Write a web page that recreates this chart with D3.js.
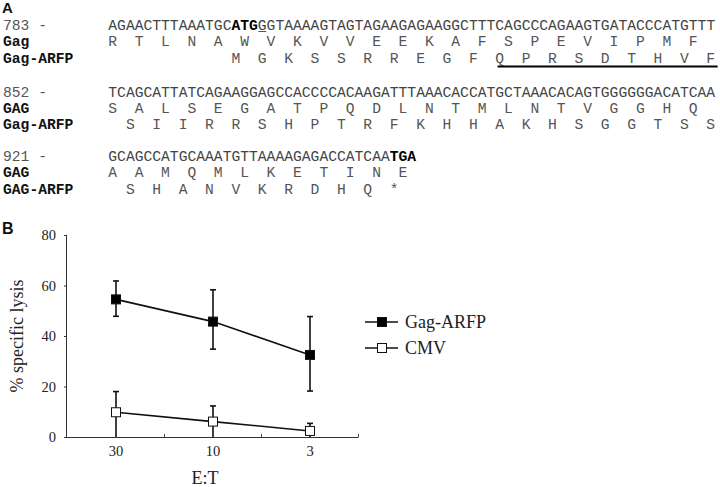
<!DOCTYPE html>
<html>
<head>
<meta charset="utf-8">
<script src="https://cdn.jsdelivr.net/npm/d3@7/dist/d3.min.js"></script>
<style>
  html, body { margin: 0; padding: 0; background: #fff; }
  svg { display: block; }
</style>
</head>
<body>
<svg id="fig" width="720" height="487"></svg>
<script>
// ---------------- Data ----------------
// Panel A: sequence blocks
const seqLabels = ["783 -", "852 -", "921 -"];
const gagLabels = ["Gag", "GAG", "GAG"];
const arfpLabels = ["Gag-ARFP", "Gag-ARFP", "GAG-ARFP"];
const nucLines = [
  "AGAACTTTAAATGCATGGGTAAAAGTAGTAGAAGAGAAGGCTTTCAGCCCAGAAGTGATACCCATGTTT",
  "TCAGCATTATCAGAAGGAGCCACCCCACAAGATTTAAACACCATGCTAAACACAGTGGGGGGACATCAA",
  "GCAGCCATGCAAATGTTAAAAGAGACCATCAATGA"
];
const boldRanges = [[14, 17], null, [32, 35]];   // ATG start, TGA stop
const gagAA = [
  ["R","T","L","N","A","W","V","K","V","V","E","E","K","A","F","S","P","E","V","I","P","M","F"],
  ["S","A","L","S","E","G","A","T","P","Q","D","L","N","T","M","L","N","T","V","G","G","H","Q"],
  ["A","A","M","Q","M","L","K","E","T","I","N","E"]
];
const gagStart = [0, 0, 0];
const arfpAA = [
  ["M","G","K","S","S","R","R","E","G","F","Q","P","R","S","D","T","H","V","F"],
  ["S","I","I","R","R","S","H","P","T","R","F","K","H","H","A","K","H","S","G","G","T","S","S"],
  ["S","H","A","N","V","K","R","D","H","Q","*"]
];
const arfpStart = [14, 2, 2];
const underlinedNuc = 17;          // underlined G in first line
const peptideFrom = 44;            // underlined peptide in Gag-ARFP, block 1

// Panel B: chart
const categories = ["30", "10", "3"];
const gagMean  = [54.5, 45.7, 32.5];
const gagUpper = [61.8, 58.3, 47.7];
const gagLower = [47.8, 34.8, 18.2];
const cmvMean  = [9.8, 6.1, 2.4];
const cmvUpper = [18.0, 12.3, 5.4];
const cmvLower = [0, 0, 0];
const yTicks = [0, 20, 40, 60, 80];
const seriesNames = ["Gag-ARFP", "CMV"];

// ---------------- Panel A ----------------
const svg = d3.select("#fig");
const mono = "'Liberation Mono', 'DejaVu Sans Mono', monospace";
const fs = 14.67, cw = fs * 0.6, x0 = 108.3;
const blockY = [[24.5, 41, 57.5], [91.5, 107.5, 123.5], [155.5, 172, 188.5]];

svg.append("text").attr("x", 2).attr("y", 12.5)
  .attr("font-family", "'Liberation Sans', Arial, sans-serif")
  .attr("font-weight", "bold").attr("font-size", 15).attr("fill", "#111").text("A");

nucLines.forEach((line, b) => {
  const [y1, y2, y3] = blockY[b].map(v => v + 5);
  // labels
  svg.append("text").attr("x", 3).attr("y", y1).attr("font-family", mono)
    .attr("font-size", fs).attr("fill", "#555").text(seqLabels[b]);
  svg.append("text").attr("x", 3).attr("y", y2).attr("font-family", mono)
    .attr("font-size", fs).attr("font-weight", "bold").attr("fill", "#111").text(gagLabels[b]);
  svg.append("text").attr("x", 3).attr("y", y3).attr("font-family", mono)
    .attr("font-size", fs).attr("font-weight", "bold").attr("fill", "#111").text(arfpLabels[b]);
  // nucleotides
  const t = svg.append("text").attr("x", x0).attr("y", y1).attr("font-family", mono)
    .attr("font-size", fs).attr("fill", "#444").attr("xml:space", "preserve");
  const br = boldRanges[b];
  if (br) {
    t.append("tspan").text(line.slice(0, br[0]));
    t.append("tspan").attr("font-weight", "bold").attr("fill", "#000").text(line.slice(br[0], br[1]));
    t.append("tspan").text(line.slice(br[1]));
  } else {
    t.text(line);
  }
  // amino acids
  const aaStr = (arr, off) => " ".repeat(off) + arr.join("  ");
  svg.append("text").attr("x", x0).attr("y", y2).attr("font-family", mono)
    .attr("font-size", fs).attr("fill", "#555").style("white-space", "pre")
    .text(aaStr(gagAA[b], gagStart[b]));
  svg.append("text").attr("x", x0).attr("y", y3).attr("font-family", mono)
    .attr("font-size", fs).attr("fill", "#555").style("white-space", "pre")
    .text(aaStr(arfpAA[b], arfpStart[b]));
});
// underline under the G after ATG
svg.append("line")
  .attr("x1", x0 + underlinedNuc * cw + 0.5).attr("x2", x0 + (underlinedNuc + 1) * cw - 0.5)
  .attr("y1", 31.5).attr("y2", 31.5).attr("stroke", "#555").attr("stroke-width", 1);
// thick underline of peptide
svg.append("line")
  .attr("x1", x0 + peptideFrom * cw + 2).attr("x2", x0 + 69 * cw + 2)
  .attr("y1", 66.5).attr("y2", 66.5).attr("stroke", "#000").attr("stroke-width", 2);

// ---------------- Panel B ----------------
const serif = "'Liberation Serif', 'Times New Roman', serif";
svg.append("text").attr("x", 2).attr("y", 233.5)
  .attr("font-family", "'Liberation Sans', Arial, sans-serif")
  .attr("font-weight", "bold").attr("font-size", 16).attr("fill", "#111").text("B");

const x = d3.scaleBand().domain(categories).range([67.5, 358.5]);
const y = d3.scaleLinear().domain([0, 80]).range([437, 235]);
const cx = d => x(d) + x.bandwidth() / 2;

// y axis
const gy = svg.append("g").attr("transform", "translate(67,0)")
  .call(d3.axisLeft(y).tickValues(yTicks).tickSize(3).tickPadding(8).tickFormat(d3.format("d")));
gy.select(".domain").attr("stroke", "#333").attr("d", `M-0.5,${y(80)}V${y(0)}`);
gy.selectAll(".tick line").attr("stroke", "#333");
gy.selectAll(".tick text").attr("font-family", serif).attr("font-size", 14.5).attr("fill", "#222");

// x axis
const gx = svg.append("g").attr("transform", `translate(0,${y(0)})`)
  .call(d3.axisBottom(x).tickSize(0).tickPadding(9));
gx.select(".domain").attr("stroke", "#333").attr("d", `M66.5,0.5H358.5`);
gx.selectAll(".tick text").attr("font-family", serif).attr("font-size", 14.5).attr("fill", "#222");
// band-boundary minor ticks
const bounds = categories.map(c => x(c) + x.bandwidth()).slice(0, categories.length);
gx.selectAll("line.minor").data(bounds).enter().append("line")
  .attr("x1", d => d).attr("x2", d => d).attr("y1", 0).attr("y2", -3)
  .attr("stroke", "#444").attr("stroke-width", 1);

// axis titles
svg.append("text").attr("transform", `translate(23,336) rotate(-90)`)
  .attr("text-anchor", "middle").attr("font-family", serif).attr("font-size", 18)
  .attr("fill", "#222").text("% specific lysis");
svg.append("text").attr("x", 205).attr("y", 484).attr("text-anchor", "middle")
  .attr("font-family", serif).attr("font-size", 18).attr("fill", "#222").text("E:T");

// series
const series = [
  { name: seriesNames[0], mean: gagMean, lo: gagLower, hi: gagUpper, fill: "#000" },
  { name: seriesNames[1], mean: cmvMean, lo: cmvLower, hi: cmvUpper, fill: "#fff" }
];
const line = d3.line().x((d, i) => cx(categories[i])).y(d => y(d));
const sq = 9, cap = 3;
series.forEach(s => {
  const g = svg.append("g");
  // error bars
  categories.forEach((c, i) => {
    const X = cx(c);
    g.append("line").attr("x1", X).attr("x2", X).attr("y1", y(s.hi[i])).attr("y2", y(s.lo[i]))
      .attr("stroke", "#111").attr("stroke-width", 1.6);
    g.append("line").attr("x1", X - cap).attr("x2", X + cap).attr("y1", y(s.hi[i])).attr("y2", y(s.hi[i]))
      .attr("stroke", "#111").attr("stroke-width", 1.6);
    if (s.lo[i] > 0) {
      g.append("line").attr("x1", X - cap).attr("x2", X + cap).attr("y1", y(s.lo[i])).attr("y2", y(s.lo[i]))
        .attr("stroke", "#111").attr("stroke-width", 1.6);
    }
  });
  g.append("path").attr("d", line(s.mean)).attr("fill", "none")
    .attr("stroke", "#111").attr("stroke-width", 1.6);
  g.selectAll("rect").data(s.mean).enter().append("rect")
    .attr("x", (d, i) => cx(categories[i]) - sq / 2).attr("y", d => y(d) - sq / 2)
    .attr("width", sq).attr("height", sq)
    .attr("fill", s.fill).attr("stroke", "#111").attr("stroke-width", 1);
});

// legend
const legY = [322, 348];
series.forEach((s, i) => {
  const g = svg.append("g").attr("transform", `translate(0,${legY[i]})`);
  g.append("line").attr("x1", 365).attr("x2", 398).attr("y1", 0).attr("y2", 0)
    .attr("stroke", "#111").attr("stroke-width", 1.6);
  g.append("rect").attr("x", 382 - sq / 2).attr("y", -sq / 2).attr("width", sq).attr("height", sq)
    .attr("fill", s.fill).attr("stroke", "#111").attr("stroke-width", 1);
  g.append("text").attr("x", 405).attr("y", 6).attr("font-family", serif)
    .attr("font-size", 18).attr("fill", "#222").text(s.name);
});
</script>
</body>
</html>
